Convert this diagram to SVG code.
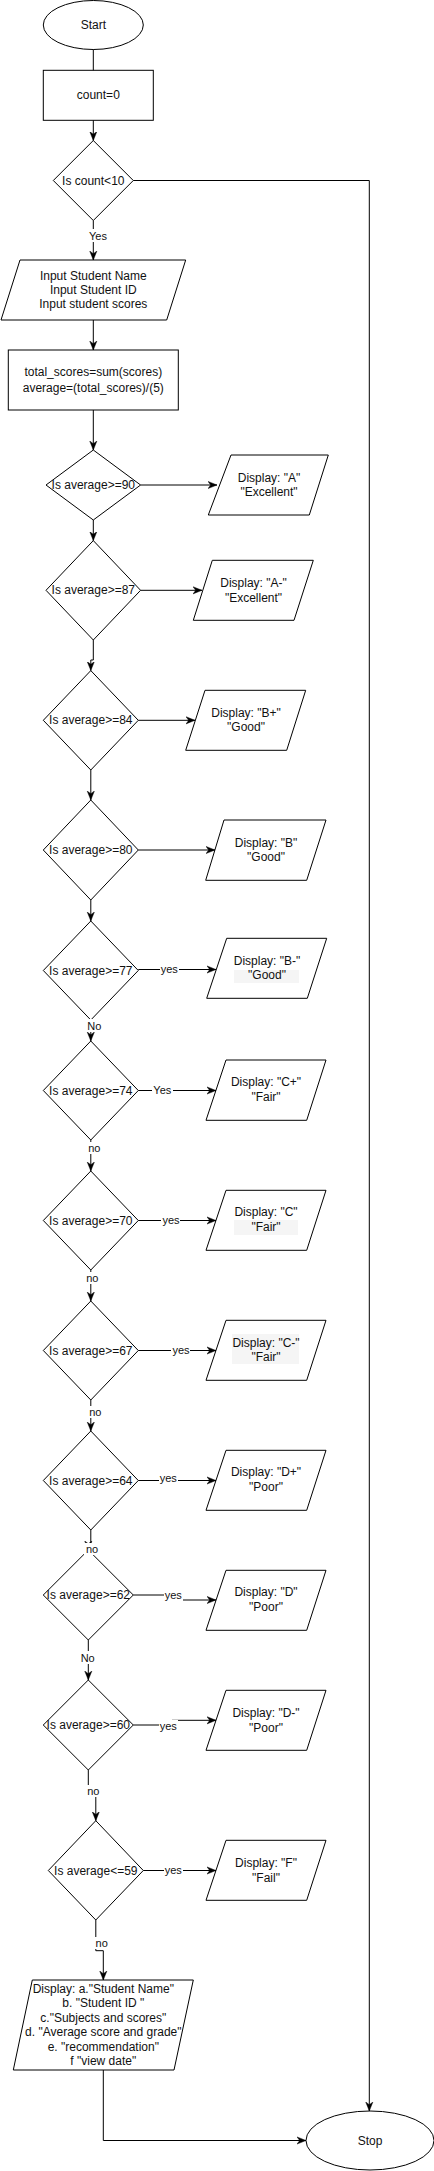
<svg xmlns="http://www.w3.org/2000/svg" width="434" height="2171" viewBox="0 0 434 2171">
<style>
.s{fill:#fff;stroke:#000;stroke-width:1}
.t{font-family:"Liberation Sans",Arial,sans-serif;font-size:12px;fill:#111;text-anchor:middle}
.l{font-family:"Liberation Sans",Arial,sans-serif;font-size:11px;fill:#111;text-anchor:middle}
.c{fill:none;stroke:#000;stroke-width:1}
.a{marker-end:url(#arr)}
.lb{fill:#fff}
.hl{fill:#f5f5f5}
</style>
<defs>
<marker id="arr" viewBox="0 0 10 10" refX="10" refY="5" markerWidth="9" markerHeight="9" markerUnits="userSpaceOnUse" orient="auto">
<path d="M0,1 L10,5 L0,9 L3,5 z" fill="#000" stroke="#000" stroke-width="0.5"/>
</marker>
</defs>
<rect x="0" y="0" width="434" height="2171" fill="#fff"/>

<g id="start"><ellipse class="s" cx="93.3" cy="25" rx="50" ry="24.5"/><text class="t" x="93.3" y="29">Start</text></g>
<g id="count0"><rect class="s" x="43.3" y="70.3" width="110" height="50"/><text class="t" x="98.3" y="99.3">count=0</text></g>
<g id="d_count"><polygon class="s" points="93.3,140.5 133.3,180.5 93.3,220.5 53.3,180.5"/><text class="t" x="93.3" y="184.5">Is count&lt;10</text></g>
<g id="input"><polygon class="s" points="20,260 185.7,260 166.7,320 1,320"/>
<text class="t" x="93.3" y="279.7">Input Student Name</text><text class="t" x="93.3" y="294">Input Student ID</text><text class="t" x="93.3" y="308.3">Input student scores</text></g>
<g id="calc"><rect class="s" x="8.3" y="350" width="170" height="60"/>
<text class="t" x="93.3" y="376.3">total_scores=sum(scores)</text><text class="t" x="93.3" y="391.7">average=(total_scores)/(5)</text></g>

<g id="d90"><polygon class="s" points="93.3,450 140.6,485 93.3,520 46,485"/><text class="t" x="93.3" y="489">Is average&gt;=90</text></g>
<g id="pA"><polygon class="s" points="231,455 328.3,455 309.3,515 208.3,515"/><text class="t" x="269" y="481.7">Display: "A"</text><text class="t" x="269" y="496.3">"Excellent"</text></g>

<g id="d87"><polygon class="s" points="93.3,540.6 140.6,590.3 93.3,640 46,590.3"/><text class="t" x="93.3" y="594.3">Is average&gt;=87</text></g>
<g id="pAm"><polygon class="s" points="212.3,560.3 313.3,560.3 294,620.3 193.3,620.3"/><text class="t" x="253.5" y="587">Display: "A-"</text><text class="t" x="253.5" y="601.7">"Excellent"</text></g>

<g id="d84"><polygon class="s" points="90.8,670.6 138.3,720.3 90.8,770 43.3,720.3"/><text class="t" x="90.8" y="724.3">Is average&gt;=84</text></g>
<g id="pBp"><polygon class="s" points="205,690.3 305.7,690.3 286.7,750.3 185.7,750.3"/><text class="t" x="246" y="716.7">Display: "B+"</text><text class="t" x="246" y="731.3">"Good"</text></g>

<g id="d80"><polygon class="s" points="90.8,800 138.3,850 90.8,900 43.3,850"/><text class="t" x="90.8" y="854">Is average&gt;=80</text></g>
<g id="pB"><polygon class="s" points="224,820 326,820 306.7,880.3 205.7,880.3"/><text class="t" x="266" y="847">Display: "B"</text><text class="t" x="266" y="861.3">"Good"</text></g>

<g id="d77"><polygon class="s" points="90.8,921 138.3,970.5 90.8,1020 43.3,970.5"/><text class="t" x="90.8" y="974.5">Is average&gt;=77</text></g>
<g id="pBm"><polygon class="s" points="226.7,938.3 326.7,938.3 307.3,998.3 206.7,998.3"/><rect class="hl" x="234" y="970" width="65" height="13"/><text class="t" x="267" y="964.7">Display: "B-"</text><text class="t" x="267" y="979.3">"Good"</text></g>

<g id="d74"><polygon class="s" points="90.8,1041 138.3,1090.5 90.8,1140 43.3,1090.5"/><text class="t" x="90.8" y="1094.5">Is average&gt;=74</text></g>
<g id="pCp"><polygon class="s" points="226,1060 326,1060 306.7,1120.3 206,1120.3"/><text class="t" x="266" y="1086.3">Display: "C+"</text><text class="t" x="266" y="1101">"Fair"</text></g>

<g id="d70"><polygon class="s" points="90.8,1171 138.3,1220.5 90.8,1270 43.3,1220.5"/><text class="t" x="90.8" y="1224.5">Is average&gt;=70</text></g>
<g id="pC"><polygon class="s" points="226,1190.3 326,1190.3 306.7,1250.3 206,1250.3"/><rect class="hl" x="234" y="1220" width="64" height="15"/><text class="t" x="266" y="1216.3">Display: "C"</text><text class="t" x="266" y="1231.3">"Fair"</text></g>

<g id="d67"><polygon class="s" points="90.8,1301 138.3,1350.5 90.8,1400 43.3,1350.5"/><text class="t" x="90.8" y="1354.5">Is average&gt;=67</text></g>
<g id="pCm"><polygon class="s" points="226,1320.3 326,1320.3 306.7,1380.3 206,1380.3"/><rect class="hl" x="232" y="1334" width="67" height="30"/><text class="t" x="266" y="1346.7">Display: "C-"</text><text class="t" x="266" y="1361.3">"Fair"</text></g>

<g id="d64"><polygon class="s" points="90.8,1431 138.3,1480.5 90.8,1530 43.3,1480.5"/><text class="t" x="90.8" y="1484.5">Is average&gt;=64</text></g>
<g id="pDp"><polygon class="s" points="226,1450.3 326,1450.3 306.7,1510.3 206,1510.3"/><text class="t" x="266" y="1476.3">Display: "D+"</text><text class="t" x="266" y="1491.3">"Poor"</text></g>

<g id="d62"><polygon class="s" points="88.3,1550 133.3,1595 88.3,1640 43.3,1595"/><text class="t" x="88.3" y="1599">Is average&gt;=62</text></g>
<g id="pD"><polygon class="s" points="226,1570.3 326,1570.3 306.7,1630.3 206,1630.3"/><text class="t" x="266" y="1596.3">Display: "D"</text><text class="t" x="266" y="1611.3">"Poor"</text></g>

<g id="d60"><polygon class="s" points="88.3,1680 133.3,1725 88.3,1770 43.3,1725"/><text class="t" x="88.3" y="1729">Is average&gt;=60</text></g>
<g id="pDm"><polygon class="s" points="226,1690.3 326,1690.3 306.7,1750.3 206,1750.3"/><text class="t" x="266" y="1716.7">Display: "D-"</text><text class="t" x="266" y="1731.7">"Poor"</text></g>

<g id="d59"><polygon class="s" points="95.8,1820.7 143.3,1870.5 95.8,1920 48.3,1870.5"/><text class="t" x="95.8" y="1874.5">Is average&lt;=59</text></g>
<g id="pF"><polygon class="s" points="226,1840.3 326,1840.3 306.7,1900.3 206,1900.3"/><text class="t" x="266" y="1866.7">Display: "F"</text><text class="t" x="266" y="1881.7">"Fail"</text></g>

<g id="report"><polygon class="s" points="32.3,1980 193.3,1980 174,2070 13.3,2070"/>
<text class="t" x="103.3" y="1993">Display: a."Student Name"</text>
<text class="t" x="103.3" y="2007.4">b. "Student ID "</text>
<text class="t" x="103.3" y="2021.8">c."Subjects and scores"</text>
<text class="t" x="103.3" y="2036.2">d. "Average score and grade"</text>
<text class="t" x="103.3" y="2050.6">e. "recommendation"</text>
<text class="t" x="103.3" y="2065">f "view date"</text></g>

<g id="stop"><ellipse class="s" cx="370" cy="2140.5" rx="64" ry="29.5"/><text class="t" x="370" y="2144.5">Stop</text></g>

<g id="connectors">
<path class="c" d="M93.3,49.5 V70.3"/>
<path class="c a" d="M93.3,120.3 V140.5"/>
<path class="c a" d="M93.3,220.5 V260"/>
<path class="c a" d="M133.3,180.5 H369.3 V2111"/>
<path class="c a" d="M93.3,320 V350"/>
<path class="c a" d="M93.3,410 V450"/>
<path class="c a" d="M140.6,485 H217"/>
<path class="c a" d="M93.3,520 V540.6"/>
<path class="c a" d="M140.6,590.3 H202"/>
<path class="c a" d="M93.3,640 V660 H90.8 V670.6"/>
<path class="c a" d="M138.3,720.3 H195"/>
<path class="c a" d="M90.8,770 V800"/>
<path class="c a" d="M138.3,850 H215"/>
<path class="c a" d="M90.8,900 V921"/>
<path class="c a" d="M138.3,969.5 H216"/>
<path class="c a" d="M90.8,1020 V1041"/>
<path class="c a" d="M138.3,1090.5 H216"/>
<path class="c a" d="M90.8,1140 V1171"/>
<path class="c a" d="M138.3,1220.5 H216"/>
<path class="c a" d="M90.8,1270 V1301"/>
<path class="c a" d="M138.3,1350.5 H216"/>
<path class="c a" d="M90.8,1400 V1431"/>
<path class="c a" d="M138.3,1480.5 H216"/>
<path class="c a" d="M90.8,1530 V1545 H88.3 V1550"/>
<path class="c a" d="M133.3,1595 H175 V1600 H216"/>
<path class="c a" d="M88.3,1640 V1680"/>
<path class="c a" d="M133.3,1725 H172 V1720.3 H216"/>
<path class="c a" d="M88.3,1770 V1791 H95.8 V1820.7"/>
<path class="c a" d="M143.3,1870.5 H216"/>
<path class="c a" d="M95.8,1920 V1950.7 H103.3 V1980"/>
<path class="c a" d="M103.3,2070 V2140.5 H306"/>

<rect class="lb" x="88" y="229" width="20" height="13"/><text class="l" x="98" y="240">Yes</text>
<rect class="lb" x="160" y="963" width="19" height="12"/><text class="l" x="169.3" y="973">yes</text>
<rect class="lb" x="85" y="1019" width="19" height="13"/><text class="l" x="94.3" y="1029.7">No</text>
<rect class="lb" x="152" y="1084" width="21" height="13"/><text class="l" x="162.3" y="1094">Yes</text>
<rect class="lb" x="86" y="1142" width="17" height="12"/><text class="l" x="94.3" y="1152.3">no</text>
<rect class="lb" x="161" y="1214" width="19" height="12"/><text class="l" x="171" y="1224">yes</text>
<rect class="lb" x="84" y="1272" width="17" height="12"/><text class="l" x="92.3" y="1282.3">no</text>
<rect class="lb" x="171" y="1344" width="19" height="12"/><text class="l" x="181" y="1354">yes</text>
<rect class="lb" x="87" y="1406" width="17" height="12"/><text class="l" x="95.3" y="1416.3">no</text>
<rect class="lb" x="159" y="1472" width="19" height="12"/><text class="l" x="168.3" y="1482.3">yes</text>
<rect class="lb" x="84" y="1543" width="17" height="12"/><text class="l" x="92" y="1553.3">no</text>
<rect class="lb" x="164" y="1589" width="19" height="12"/><text class="l" x="173.3" y="1599">yes</text>
<rect class="lb" x="79" y="1651" width="18" height="13"/><text class="l" x="87.7" y="1661.7">No</text>
<rect class="lb" x="159" y="1720" width="19" height="12"/><text class="l" x="168.3" y="1730">yes</text>
<rect class="lb" x="85" y="1785" width="17" height="12"/><text class="l" x="93.3" y="1795">no</text>
<rect class="lb" x="164" y="1864" width="19" height="12"/><text class="l" x="173.3" y="1874">yes</text>
<rect class="lb" x="93" y="1937" width="17" height="12"/><text class="l" x="101.7" y="1947.3">no</text>
</g>
</svg>
